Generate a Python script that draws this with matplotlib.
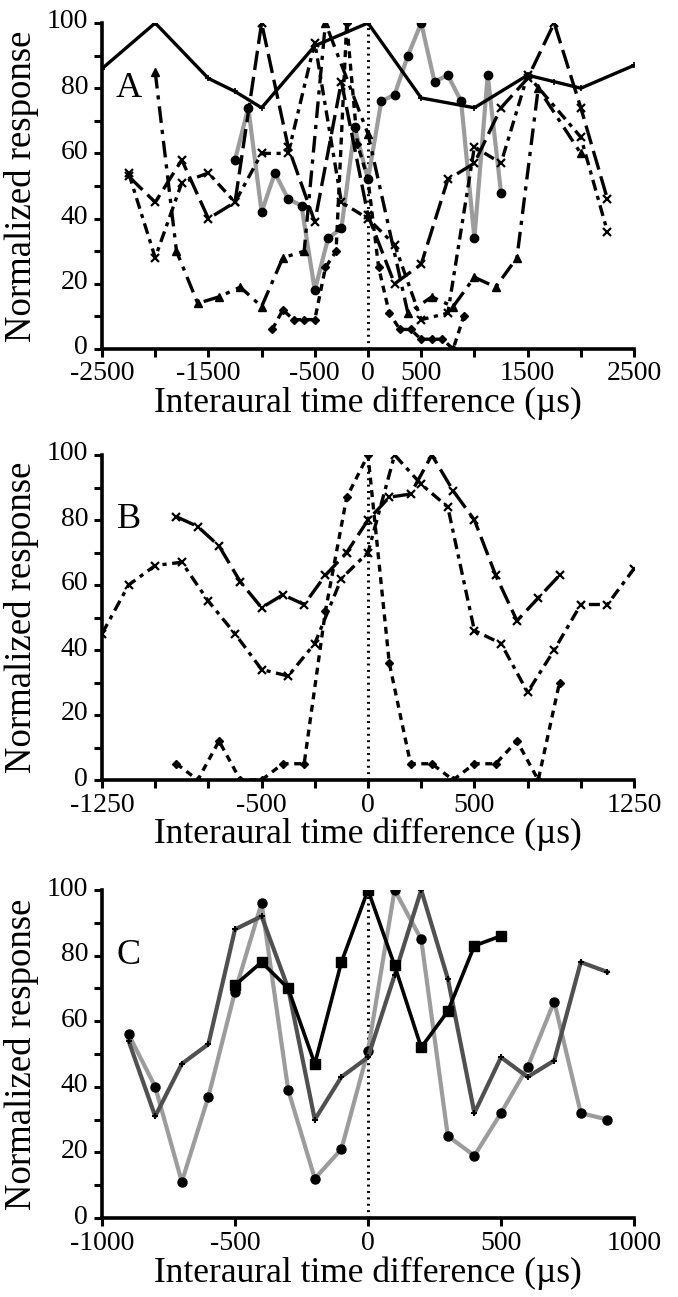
import matplotlib
matplotlib.use("Agg")
import matplotlib.pyplot as plt
import matplotlib.transforms as mtransforms
from matplotlib.ticker import MultipleLocator, FixedLocator

plt.rcParams['font.family'] = ['Liberation Serif', 'DejaVu Serif']
plt.rcParams['axes.unicode_minus'] = False
plt.rcParams['lines.scale_dashes'] = False

# ---- panel A data ----
a_solid_x = [-2500, -2000, -1500, -1250, -1000, -500, 0, 500, 1000, 1500, 1750, 2000, 2500]
a_solid_y = [86, 100, 83, 79, 74, 93, 100, 77, 74, 84, 82, 80, 87]

a_circ_x = [-1250, -1125, -1000, -875, -750, -625, -500, -375, -250, -125, 0, 125, 250,
            375, 500, 625, 750, 875, 1000, 1125, 1250]
a_circ_y = [58, 74, 42, 54, 46, 44, 18, 34, 37, 68, 52, 76, 78, 90, 100, 82, 84, 76, 34, 84, 48]

a_tri_x = [-2000, -1800, -1600, -1400, -1200, -1000, -800, -600, -400, 0, 375, 600, 800,
           1000, 1200, 1400, 1600, 2000]
a_tri_y = [85, 30, 14, 16, 19, 13, 28, 30, 100, 66, 11, 16, 13, 22, 19, 28, 80, 60]

a_dia_x = [-900, -800, -700, -600, -500, -400, -300, -200, -100, 0, 100, 200, 300, 400,
           500, 600, 700, 800, 900]
a_dia_y = [6, 12, 9, 9, 9, 25, 30, 100, 63, 52, 25, 11, 6, 6, 3, 3, 3, 0, 10]

a_x1_x = [-2250, -2000, -1750, -1500, -1250, -1000, -750, -500, -250, 0, 250, 500, 750,
          1000, 1250, 1500, 1750, 2000, 2250]
a_x1_y = [53, 45, 58, 40, 45, 100, 62, 39, 82, 41, 20, 26, 52, 57, 74, 83, 100, 74, 46]

a_x2_x = [-2250, -2000, -1750, -1500, -1250, -1000, -750, -500, -250, 0, 250, 500, 750,
          1000, 1250, 1500, 2000, 2250]
a_x2_y = [54, 28, 51, 54, 45, 60, 60, 94, 45, 40, 32, 9, 11, 62, 57, 84, 65, 36]

# ---- panel B data ----
b_ld_x = [-900, -800, -700, -600, -500, -400, -300, -200, -100, 0, 100, 200, 300, 400,
          500, 600, 700, 800, 900]
b_ld_y = [81, 78, 72, 61, 53, 57, 54, 63, 70, 80, 87, 88, 100, 89, 80, 63, 49, 56, 63]

b_dd_x = [-1250, -1125, -1000, -875, -750, -625, -500, -375, -250, -125, 0, 125, 250,
          375, 500, 625, 750, 875, 1000, 1125, 1250]
b_dd_y = [45, 60, 66, 67, 55, 45, 34, 32, 42, 62, 70, 100, 91, 84, 46, 42, 27, 40, 54, 54, 65]

b_dia_x = [-900, -800, -700, -600, -500, -400, -300, -200, -100, 0, 100, 200, 300, 400,
           500, 600, 700, 800, 900]
b_dia_y = [5, 0, 12, 0, 0, 5, 5, 52, 87, 100, 36, 5, 5, 0, 5, 5, 12, 0, 30]

# ---- panel C data ----
c_sq_x = [-500, -400, -300, -200, -100, 0, 100, 200, 300, 400, 500]
c_sq_y = [71, 78, 70, 47, 78, 100, 77, 52, 63, 83, 86]

c_x = [-900, -800, -700, -600, -500, -400, -300, -200, -100, 0, 100, 200, 300, 400, 500,
       600, 700, 800, 900]
c_circ_y = [56, 40, 11, 37, 69, 96, 39, 12, 21, 51, 100, 85, 25, 19, 32, 46, 66, 32, 30]
c_plus_y = [54, 31, 47, 53, 88, 92, 70, 30, 43, 49, 74, 100, 73, 32, 49, 43, 48, 78, 75]

W, H = 678, 1297
fig = plt.figure(figsize=(W / 100, H / 100), dpi=100)


def add_ax(l, t, r, b):
    return fig.add_axes([l / W, 1 - b / H, (r - l) / W, (b - t) / H])


def style(ax, xlim, xstep, xlabels, letter, xlab_y):
    ax.set_xlim(*xlim)
    ax.set_ylim(0, 100)
    for s in ("top", "right"):
        ax.spines[s].set_visible(False)
    for s in ("left", "bottom"):
        ax.spines[s].set_linewidth(2.6)
    # labelled ticks are major, the rest minor (same look)
    ax.xaxis.set_major_locator(FixedLocator(xlabels))
    ax.xaxis.set_minor_locator(MultipleLocator(xstep))
    ax.yaxis.set_major_locator(MultipleLocator(20))
    ax.yaxis.set_minor_locator(MultipleLocator(10))
    ax.tick_params(which="both", direction="out", length=6, width=2.2, labelsize=20)
    ax.tick_params(axis="x", pad=3)
    ax.tick_params(axis="y", pad=4)
    ax.set_ylabel("Normalized response", fontsize=26.5)
    ax.yaxis.set_label_coords(-0.118, 0.5)
    ax.set_xlabel("Interaural time difference (\u00b5s)", fontsize=25.5)
    ax.xaxis.set_label_coords(0.5, xlab_y)
    ax.text(0.05, 0.80, letter, transform=ax.transAxes, fontsize=26,
            ha="center", va="center")
    ax.plot([0, 0], [0, 100], color="black", lw=2.2, ls=(0, (1.4, 3.2)))


gray = "#9c9c9c"
dark = "#505050"

# ---- A ----
axA = add_ax(102, 23, 634, 349)
style(axA, (-2500, 2500), 500, [-2500, -1500, -500, 0, 500, 1500, 2500], "A", -0.116)
axA.plot(a_circ_x, a_circ_y, color=gray, lw=3, marker="o", ms=6, mfc="black", mec="black")
axA.plot(a_tri_x, a_tri_y, color="black", lw=2.4, ls=(0, (12, 5, 3, 5)),
         marker="^", ms=6)
axA.plot(a_dia_x, a_dia_y, color="black", lw=2.4, ls=(0, (5, 4)), marker="D", ms=4.5)
axA.plot(a_x1_x, a_x1_y, color="black", lw=2.4, ls=(0, (14, 5)), marker="x", ms=6, mew=1.6)
axA.plot(a_x2_x, a_x2_y, color="black", lw=2.4, ls=(0, (8, 4, 3, 4)), marker="x", ms=6,
         mew=1.6)
axA.plot(a_solid_x, a_solid_y, color="black", lw=2.4, marker="+", ms=5, mew=1.2)

# ---- B ----
axB = add_ax(102, 455, 634, 780)
style(axB, (-1250, 1250), 250, [-1250, -500, 0, 500, 1250], "B", -0.116)
axB.plot(b_ld_x, b_ld_y, color="black", lw=2.4, ls=(0, (14, 5)), marker="x", ms=6, mew=1.6)
axB.plot(b_dd_x, b_dd_y, color="black", lw=2.4, ls=(0, (8, 4, 3, 4)), marker="x", ms=6,
         mew=1.6)
axB.plot(b_dia_x, b_dia_y, color="black", lw=2.4, ls=(0, (5, 4)), marker="D", ms=4.5)

# ---- C ----
axC = add_ax(102, 890, 634, 1218)
style(axC, (-1000, 1000), 500, [-1000, -500, 0, 500, 1000], "C", -0.118)
axC.plot(c_x, c_circ_y, color=gray, lw=3, marker="o", ms=6.5, mfc="black", mec="black")
axC.plot(c_x, c_plus_y, color=dark, lw=3, marker="+", ms=5, mew=1.4, mec="black")
axC.plot(c_sq_x, c_sq_y, color="black", lw=2.6, marker="s", ms=6.5)

# nudge y tick labels up a little so "0" clears the x tick labels
fig.canvas.draw()
lift = mtransforms.ScaledTranslation(0, 0.04, fig.dpi_scale_trans)
for ax in (axA, axB, axC):
    for lab in ax.get_yticklabels():
        lab.set_transform(lab.get_transform() + lift)

fig.savefig("out.png", dpi=100)
